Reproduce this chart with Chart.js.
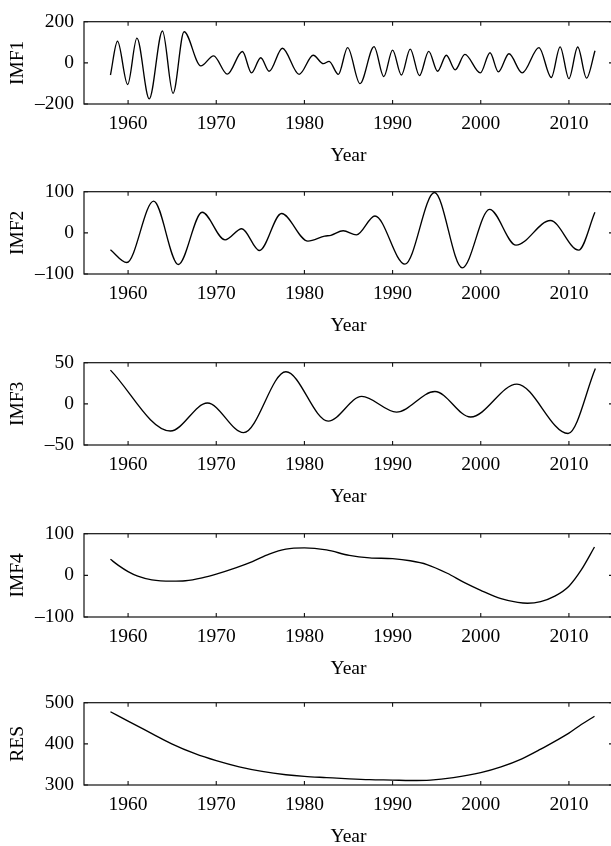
<!DOCTYPE html>
<html>
<head>
<meta charset="utf-8">
<script src="https://cdn.jsdelivr.net/npm/chart.js@4"></script>
<style>
  html, body { margin: 0; padding: 0; background: #fff; overflow: hidden; width: 611px; height: 846px; }
  .panel { position: absolute; left: 0; }
</style>
</head>
<body>
<div id="wrap"></div>
<script>
// ---------- data ----------
const xTickYears = [1960, 1970, 1980, 1990, 2000, 2010];
const xAxisTitle = 'Year';

const imf1Years  = [1958.0, 1958.8, 1959.95, 1961.0, 1962.4, 1963.9, 1965.1, 1966.35, 1968.25, 1969.7, 1971.25, 1972.97, 1974.0, 1975.05, 1976.0, 1977.5, 1979.4, 1981.0, 1982.15, 1982.8, 1983.85, 1984.9, 1986.3, 1987.9, 1989.0, 1990.0, 1991.0, 1992.0, 1993.05, 1994.1, 1995.1, 1996.1, 1997.1, 1998.2, 1999.95, 2001.05, 2002.0, 2003.2, 2004.7, 2006.6, 2008.0, 2009.0, 2010.0, 2011.0, 2012.0, 2012.96];
const imf1Values = [-59, 105, -105, 120, -175, 155, -148, 151, -15, 34, -55, 55, -49, 25, -41, 71, -56, 37, -4, 7, -56, 74, -101, 79, -67, 62, -59, 67, -62, 56, -41, 37, -34, 41, -49, 49, -44, 44, -49, 74, -71, 78, -77, 77, -74, 59];
const imf1Ticks  = [-200, 0, 200];

const imf2Years  = [1958.0, 1959.85, 1962.9, 1965.7, 1968.4, 1971.0, 1972.9, 1974.9, 1977.4, 1980.4, 1982.3, 1983.0, 1984.4, 1985.9, 1988.0, 1991.4, 1994.75, 1997.9, 2001.0, 2004.0, 2007.9, 2011.1, 2012.95];
const imf2Values = [-41, -72, 77, -77, 50, -17, 10, -43, 47, -20, -8, -6, 5, -5, 41, -76, 98, -85, 57, -30, 30, -42, 50];
const imf2Ticks  = [-100, 0, 100];

const imf3Years  = [1958.0, 1964.8, 1969.0, 1973.1, 1977.9, 1982.7, 1986.5, 1990.45, 1994.8, 1998.85, 2004.1, 2009.9, 2013.0];
const imf3Values = [41, -33, 1, -35, 39, -21, 9, -10, 15, -16, 24, -36, 43];
const imf3Ticks  = [-50, 0, 50];

const imf4Years  = [1958.0, 1958.9, 1960.0, 1961.1, 1962.7, 1964.95, 1966.5, 1968.4, 1970.0, 1972.2, 1974.1, 1976.0, 1977.9, 1980.0, 1982.5, 1985.1, 1987.4, 1990.0, 1992.0, 1993.9, 1996.2, 1998.1, 2000.0, 2002.3, 2004.2, 2005.3, 2006.8, 2008.4, 2010.0, 2011.4, 2012.9];
const imf4Values = [38.5, 24, 9, -2, -11, -14, -13, -6, 3, 18, 33, 51, 63, 66, 61, 48, 42, 40, 35, 26, 5, -17, -36, -56, -65, -67, -63, -50, -26, 13, 68];
const imf4Ticks  = [-100, 0, 100];

const resYears   = [1958.0, 1960.0, 1962.7, 1964.95, 1967.6, 1970.0, 1972.6, 1975.2, 1977.9, 1980.0, 1982.5, 1985.1, 1987.4, 1990.0, 1992.0, 1994.3, 1996.9, 2000.0, 2002.3, 2004.6, 2006.8, 2008.4, 2010.0, 2011.4, 2012.9];
const resValues  = [478, 455, 425, 400, 376, 359, 344, 333, 325, 321, 318, 315, 313, 312, 311, 312, 318, 330, 344, 363, 387, 406, 426, 447, 467];
const resTicks   = [300, 400, 500];

const panels = [
  { title: 'IMF1', years: imf1Years, values: imf1Values, ticks: imf1Ticks, top: 15,  bottom: 104 },
  { title: 'IMF2', years: imf2Years, values: imf2Values, ticks: imf2Ticks, top: 185, bottom: 274 },
  { title: 'IMF3', years: imf3Years, values: imf3Values, ticks: imf3Ticks, top: 356, bottom: 445 },
  { title: 'IMF4', years: imf4Years, values: imf4Values, ticks: imf4Ticks, top: 527, bottom: 617 },
  { title: 'RES',  years: resYears,  values: resValues,  ticks: resTicks,  top: 696, bottom: 785 }
];

// ---------- drawing ----------
const FONT = { family: '"Liberation Serif", "Times New Roman", serif', size: 19.5 };
const minus = v => v < 0 ? '\u2013' + Math.abs(v) : String(v);

const framePlugin = {
  id: 'frame',
  afterDraw(chart) {
    const { ctx, chartArea: a, scales } = chart;
    const x = scales.x, y = scales.y;
    ctx.save();
    ctx.strokeStyle = '#111';
    ctx.lineWidth = 1.2;
    ctx.strokeRect(a.left, a.top, a.right - a.left, a.bottom - a.top);
    const L = 4;
    ctx.lineWidth = 1.1;
    ctx.beginPath();
    x.ticks.forEach(t => {
      const px = x.getPixelForValue(t.value);
      ctx.moveTo(px, a.bottom); ctx.lineTo(px, a.bottom - L);
      ctx.moveTo(px, a.top);    ctx.lineTo(px, a.top + L);
    });
    y.ticks.forEach(t => {
      const py = y.getPixelForValue(t.value);
      ctx.moveTo(a.left, py);  ctx.lineTo(a.left + L, py);
      ctx.moveTo(a.right, py); ctx.lineTo(a.right - L, py);
    });
    ctx.stroke();
    ctx.restore();
  }
};

const wrap = document.getElementById('wrap');
const AXIS_H = 66;
panels.forEach(p => {
  const h = (p.bottom - p.top) + 15 + AXIS_H;
  const div = document.createElement('div');
  div.className = 'panel';
  div.style.top = (p.top - 15) + 'px';
  div.style.width = '614px';
  div.style.height = h + 'px';
  const cv = document.createElement('canvas');
  cv.width = 614; cv.height = h;
  cv.style.width = '614px'; cv.style.height = h + 'px';
  div.appendChild(cv);
  wrap.appendChild(div);

  new Chart(cv.getContext('2d'), {
    type: 'line',
    data: {
      datasets: [{
        data: p.years.map((yr, i) => ({ x: yr, y: p.values[i] })),
        borderColor: '#000',
        borderWidth: 1.35,
        pointRadius: 0,
        fill: false,
        cubicInterpolationMode: 'monotone'
      }]
    },
    options: {
      responsive: false,
      animation: false,
      devicePixelRatio: 1,
      layout: { padding: { top: 15, right: 1, left: 0, bottom: 0 } },
      plugins: { legend: { display: false }, tooltip: { enabled: false } },
      scales: {
        x: {
          type: 'linear',
          min: 1955, max: 2015,
          afterBuildTicks: s => { s.ticks = xTickYears.map(v => ({ value: v })); },
          afterFit: s => { s.height = AXIS_H; },
          grid: { display: false, drawTicks: false, tickLength: 0 },
          border: { display: false },
          ticks: { color: '#000', font: FONT, padding: 8, maxRotation: 0, autoSkip: false, callback: v => String(v) },
          title: { display: true, text: xAxisTitle, color: '#000', font: FONT, padding: { top: 8, bottom: 2 } }
        },
        y: {
          type: 'linear',
          min: p.ticks[0], max: p.ticks[p.ticks.length - 1],
          afterBuildTicks: s => { s.ticks = p.ticks.map(v => ({ value: v })); },
          afterFit: s => { s.width = 84; },
          grid: { display: false, drawTicks: false, tickLength: 0 },
          border: { display: false },
          ticks: { color: '#000', font: FONT, padding: 10, callback: v => minus(v) },
          title: { display: true, text: p.title, color: '#000', font: FONT, padding: { top: 6, bottom: 0 } }
        }
      }
    },
    plugins: [framePlugin]
  });
});
</script>
</body>
</html>
